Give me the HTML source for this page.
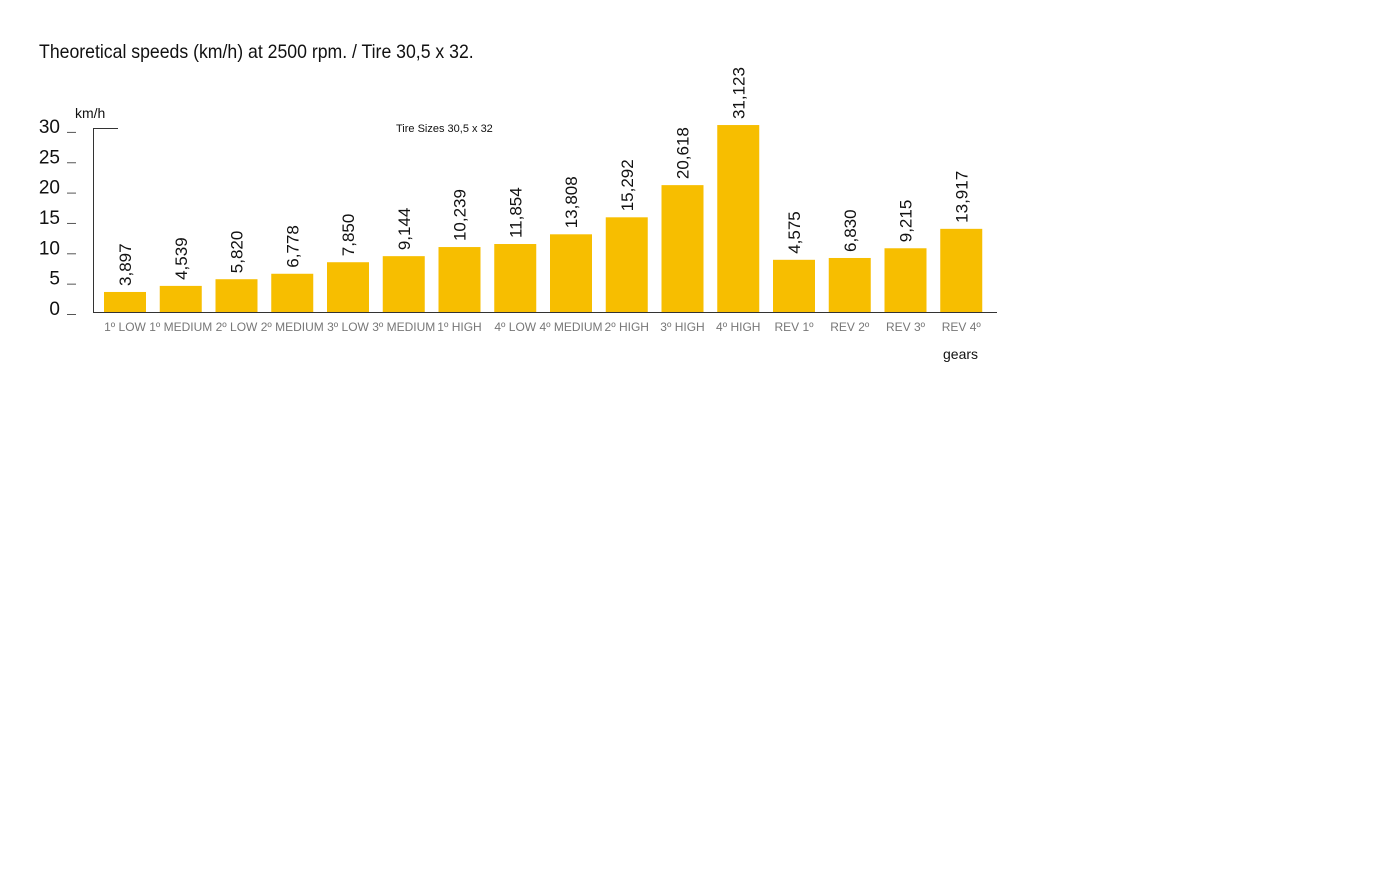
<!DOCTYPE html>
<html><head><meta charset="utf-8"><style>
body{margin:0;background:#fff;width:1400px;height:867px;overflow:hidden;font-family:"Liberation Sans",sans-serif}
</style></head><body>
<svg width="1400" height="867" xmlns="http://www.w3.org/2000/svg" font-family="Liberation Sans, sans-serif">
<text x="39" y="58" font-size="19" fill="#111" transform="scale(0.93,1) translate(3,0)">Theoretical speeds (km/h) at 2500 rpm. / Tire  30,5 x 32.</text>
<text x="75" y="118" font-size="14" fill="#111">km/h</text>
<text x="396" y="132" font-size="11" fill="#111">Tire Sizes 30,5 x 32</text>
<text x="943" y="359" font-size="14" fill="#111">gears</text>
<line x1="93.5" y1="128" x2="93.5" y2="312" stroke="#333"/>
<line x1="93" y1="128.5" x2="118" y2="128.5" stroke="#333"/>
<line x1="93" y1="312.5" x2="997" y2="312.5" stroke="#333"/>
<g id="yt"></g><g id="bars"></g>
</svg>
<script>
const categories=["1º LOW","1º MEDIUM","2º LOW","2º MEDIUM","3º LOW","3º MEDIUM","1º HIGH","4º LOW","4º MEDIUM","2º HIGH","3º HIGH","4º HIGH","REV 1º","REV 2º","REV 3º","REV 4º"];
const barHeights=[3.3,4.3,5.4,6.3,8.2,9.2,10.7,11.2,12.8,15.6,20.9,30.8,8.6,8.9,10.5,13.7];
const valueLabels=["3,897","4,539","5,820","6,778","7,850","9,144","10,239","11,854","13,808","15,292","20,618","31,123","4,575","6,830","9,215","13,917"];
const yTicks=[0,5,10,15,20,25,30];
const NS="http://www.w3.org/2000/svg";
const y0=312,k=6.07,x0=104,step=55.75,bw=42;
const yv=v=>y0-v*k;
const yt=document.getElementById('yt'),bars=document.getElementById('bars');
yTicks.forEach(t=>{
 const tx=document.createElementNS(NS,'text');
 
 
 tx.setAttribute('x',60);tx.setAttribute('y',yv(t)+3);tx.setAttribute('text-anchor','end');
 tx.setAttribute('font-size','19');tx.setAttribute('fill','#111');tx.textContent=t;yt.appendChild(tx);
 const l=document.createElementNS(NS,'line');
 
 
 l.setAttribute('x1',67);l.setAttribute('x2',76);l.setAttribute('y1',yv(t)+2.5);l.setAttribute('y2',yv(t)+2.5);
 l.setAttribute('stroke','#555');yt.appendChild(l);
});
categories.forEach((c,i)=>{
 const x=x0+i*step,top=yv(barHeights[i]);
 const r=document.createElementNS(NS,'rect');
 
 
 r.setAttribute('x',x);r.setAttribute('y',top);r.setAttribute('width',bw);r.setAttribute('height',y0-top);
 r.setAttribute('fill','#f7be00');bars.appendChild(r);
 const v=document.createElementNS(NS,'text');
 
 
 const cx=x+bw/2+6,cy=top-6;
 v.setAttribute('transform','translate('+cx+','+cy+') rotate(-90)');
 v.setAttribute('font-size','17');v.setAttribute('fill','#111');v.textContent=valueLabels[i];bars.appendChild(v);
 const cl=document.createElementNS(NS,'text');
 
 
 cl.setAttribute('x',x+bw/2);cl.setAttribute('y',331);cl.setAttribute('text-anchor','middle');
 cl.setAttribute('font-size','12');cl.setAttribute('fill','#777');cl.textContent=c;bars.appendChild(cl);
});
</script>
</body></html>
